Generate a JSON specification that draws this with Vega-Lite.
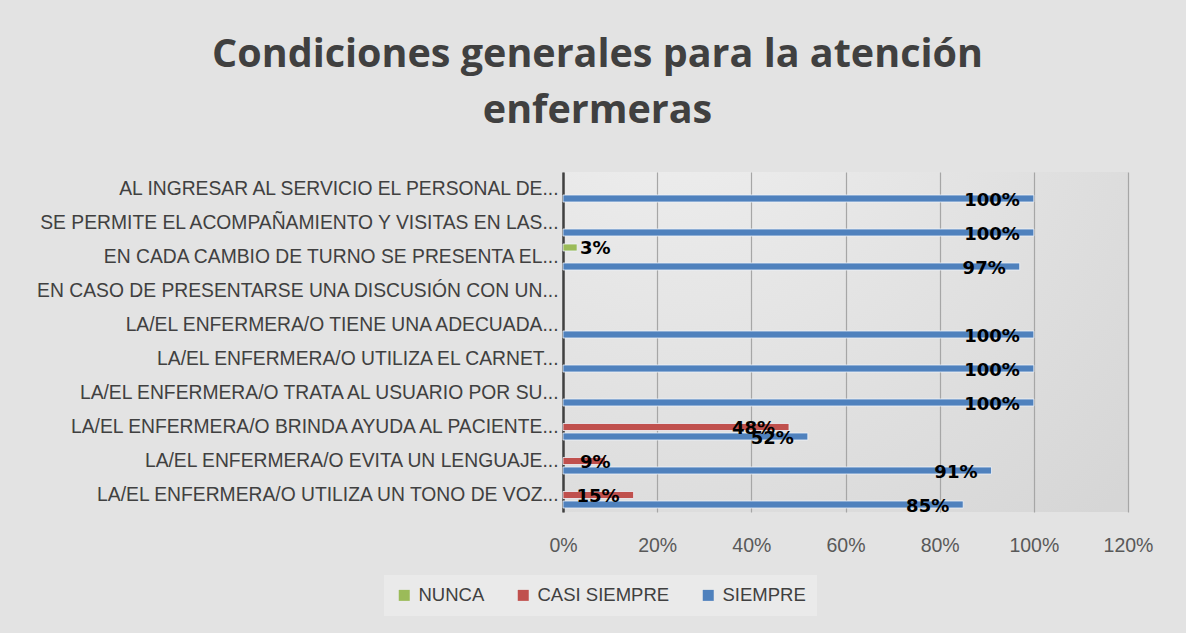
{
  "$schema": "https://vega.github.io/schema/vega-lite/v6.json",
  "width": 565,
  "height": 340,
  "autosize": {"type": "none"},
  "padding": {"left": 563, "top": 172, "right": 58, "bottom": 121},
  "background": "#e3e3e3",
  "title": {
    "text": ["Condiciones generales para la atención", "enfermeras"],
    "font": "Open Sans",
    "fontSize": 39.5,
    "fontWeight": "bold",
    "color": "#404040",
    "anchor": "middle",
    "frame": "group",
    "dx": -248,
    "baseline": "bottom",
    "lineHeight": 56,
    "offset": 2
  },
  "data": {
    "values": [
      {"pregunta": "AL INGRESAR AL SERVICIO EL PERSONAL DE...", "respuesta": "SIEMPRE", "valor": 1.0},
      {"pregunta": "SE PERMITE EL ACOMPAÑAMIENTO Y VISITAS EN LAS...", "respuesta": "SIEMPRE", "valor": 1.0},
      {"pregunta": "EN CADA CAMBIO DE TURNO SE PRESENTA EL...", "respuesta": "NUNCA", "valor": 0.03},
      {"pregunta": "EN CADA CAMBIO DE TURNO SE PRESENTA EL...", "respuesta": "SIEMPRE", "valor": 0.97},
      {"pregunta": "LA/EL ENFERMERA/O TIENE UNA ADECUADA...", "respuesta": "SIEMPRE", "valor": 1.0},
      {"pregunta": "LA/EL ENFERMERA/O UTILIZA EL CARNET...", "respuesta": "SIEMPRE", "valor": 1.0},
      {"pregunta": "LA/EL ENFERMERA/O TRATA AL USUARIO POR SU...", "respuesta": "SIEMPRE", "valor": 1.0},
      {"pregunta": "LA/EL ENFERMERA/O BRINDA AYUDA AL PACIENTE...", "respuesta": "CASI SIEMPRE", "valor": 0.48},
      {"pregunta": "LA/EL ENFERMERA/O BRINDA AYUDA AL PACIENTE...", "respuesta": "SIEMPRE", "valor": 0.52},
      {"pregunta": "LA/EL ENFERMERA/O EVITA UN LENGUAJE...", "respuesta": "CASI SIEMPRE", "valor": 0.09},
      {"pregunta": "LA/EL ENFERMERA/O EVITA UN LENGUAJE...", "respuesta": "SIEMPRE", "valor": 0.91},
      {"pregunta": "LA/EL ENFERMERA/O UTILIZA UN TONO DE VOZ...", "respuesta": "CASI SIEMPRE", "valor": 0.15},
      {"pregunta": "LA/EL ENFERMERA/O UTILIZA UN TONO DE VOZ...", "respuesta": "SIEMPRE", "valor": 0.85}
    ]
  },
  "encoding": {
    "y": {
      "field": "pregunta",
      "type": "nominal",
      "scale": {
        "domain": [
          "AL INGRESAR AL SERVICIO EL PERSONAL DE...",
          "SE PERMITE EL ACOMPAÑAMIENTO Y VISITAS EN LAS...",
          "EN CADA CAMBIO DE TURNO SE PRESENTA EL...",
          "EN CASO DE PRESENTARSE UNA DISCUSIÓN CON UN...",
          "LA/EL ENFERMERA/O TIENE UNA ADECUADA...",
          "LA/EL ENFERMERA/O UTILIZA EL CARNET...",
          "LA/EL ENFERMERA/O TRATA AL USUARIO POR SU...",
          "LA/EL ENFERMERA/O BRINDA AYUDA AL PACIENTE...",
          "LA/EL ENFERMERA/O EVITA UN LENGUAJE...",
          "LA/EL ENFERMERA/O UTILIZA UN TONO DE VOZ..."
        ],
        "paddingInner": 0.162,
        "paddingOuter": 0.081
      },
      "axis": {
        "title": null,
        "ticks": false,
        "tickSize": 0,
        "labelPadding": 5,
        "labelLimit": 0,
        "labelFont": "Liberation Sans",
        "labelFontSize": 19.3,
        "labelColor": "#404040",
        "domainColor": "#404040",
        "domainWidth": 2.5,
        "grid": false
      }
    },
    "yOffset": {
      "field": "respuesta",
      "type": "nominal",
      "scale": {"domain": ["NUNCA", "CASI SIEMPRE", "SIEMPRE"], "paddingInner": 0.263, "paddingOuter": 0.13}
    }
  },
  "layer": [
    {
      "mark": {"type": "bar", "stroke": "#eef3fa", "strokeWidth": 1, "strokeOpacity": 0.8},
      "encoding": {
        "x": {
          "field": "valor",
          "type": "quantitative",
          "scale": {"domain": [0, 1.2], "nice": false},
          "axis": {
            "title": null,
            "values": [0, 0.2, 0.4, 0.6, 0.8, 1.0, 1.2],
            "format": ".0%",
            "grid": true,
            "gridColor": "#a6a6a6",
            "gridWidth": 1.2,
            "domain": false,
            "ticks": false,
            "tickSize": 0,
            "labelFlush": false,
            "labelPadding": 24,
            "labelFont": "Liberation Sans",
            "labelFontSize": 19.5,
            "labelColor": "#595959"
          }
        },
        "color": {
          "field": "respuesta",
          "type": "nominal",
          "scale": {"domain": ["NUNCA", "CASI SIEMPRE", "SIEMPRE"], "range": ["#9bbb59", "#c0504d", "#4f81bd"]},
          "legend": {
            "title": null,
            "orient": "none",
            "direction": "horizontal",
            "legendX": -179,
            "legendY": 403,
            "fillColor": "#eaeaea",
            "padding": 11,
            "symbolType": "square",
            "symbolSize": 121,
            "symbolStrokeWidth": 0,
            "labelFont": "Liberation Sans",
            "labelFontSize": 18.5,
            "labelColor": "#404040",
            "labelOffset": 5,
            "columnPadding": 29
          }
        }
      }
    },
    {
      "transform": [{"filter": "datum.valor >= 0.12"}],
      "mark": {"type": "text", "align": "right", "baseline": "middle", "dx": -14, "dy": 2, "font": "DejaVu Sans", "fontWeight": "bold", "fontSize": 18, "color": "#000000"},
      "encoding": {
        "x": {"field": "valor", "type": "quantitative"},
        "text": {"field": "valor", "type": "quantitative", "format": ".0%"}
      }
    },
    {
      "transform": [{"filter": "datum.valor < 0.12"}],
      "mark": {"type": "text", "align": "left", "baseline": "middle", "dx": 17, "dy": 2, "font": "DejaVu Sans", "fontWeight": "bold", "fontSize": 18, "color": "#000000"},
      "encoding": {
        "x": {"datum": 0, "type": "quantitative"},
        "text": {"field": "valor", "type": "quantitative", "format": ".0%"}
      }
    }
  ],
  "config": {
    "view": {
      "stroke": null,
      "fill": {
        "gradient": "radial",
        "x1": 0.2, "y1": 0, "r1": 0,
        "x2": 0.2, "y2": 0, "r2": 1.1,
        "stops": [
          {"offset": 0, "color": "#f0f0f0"},
          {"offset": 1, "color": "#d6d6d6"}
        ]
      }
    }
  }
}
